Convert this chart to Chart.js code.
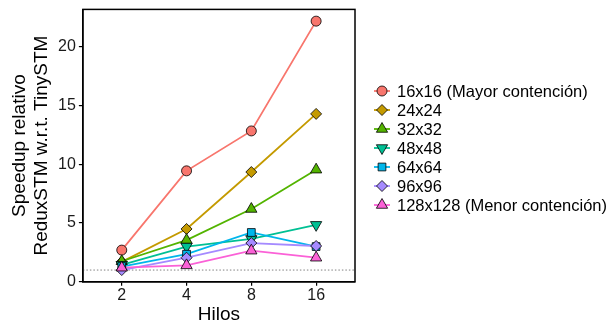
<!DOCTYPE html>
<html>
<head>
<meta charset="utf-8">
<script src="https://cdn.jsdelivr.net/npm/chart.js@4.4.1/dist/chart.umd.min.js"></script>
<style>
  html, body { margin: 0; padding: 0; background: #fff; }
  #wrap { width: 611px; height: 324px; }
</style>
</head>
<body>
<div id="wrap"><canvas id="chart" width="611" height="324"></canvas></div>
<script>
// datos
const hilos = ['2', '4', '8', '16'];
const series = ['16x16 (Mayor contención)', '24x24', '32x32', '48x48', '64x64', '96x96', '128x128 (Menor contención)'];
const s16 = [2.7, 9.45, 12.85, 22.2];
const s24 = [1.7, 4.5, 9.35, 14.3];
const s32 = [1.75, 3.55, 6.2, 9.55];
const s48 = [1.45, 3.0, 3.65, 4.85];
const s64 = [1.3, 2.35, 4.2, 3.0];
const s96 = [1.0, 2.05, 3.3, 3.05];
const s128 = [1.2, 1.4, 2.65, 2.05];
const valores = [s16, s24, s32, s48, s64, s96, s128];
const yTicks = [0, 5, 10, 15, 20];
const baseline = 1;

const colores = ['#F8766D', '#C49A00', '#53B400', '#00C094', '#00B6EB', '#A58AFF', '#FB61D7'];
const formas = ['circle', 'rectRot', 'triangle', 'triangle', 'rect', 'rectRot', 'triangle'];
const giros = [0, 0, 0, 180, 0, 0, 0];
const radios = [5, 5.5, 6.5, 6.5, 5.5, 5.5, 6.5];
const FONT = '"Liberation Sans", Arial, sans-serif';

const toPts = arr => arr.map((v, i) => ({ x: i + 1, y: v }));

// primero todas las líneas, luego todos los puntos (como ggplot)
const lineas = valores.map((arr, k) => ({
    label: series[k],
    data: toPts(arr),
    borderColor: colores[k],
    borderWidth: 1.8,
    pointRadius: 0,
    fill: false,
    order: 100 - k,
}));
const puntos = valores.map((arr, k) => ({
    label: series[k],
    data: toPts(arr),
    showLine: false,
    pointStyle: formas[k],
    pointRotation: giros[k],
    pointRadius: radios[k],
    pointHoverRadius: radios[k],
    pointBackgroundColor: colores[k],
    pointBorderColor: '#000',
    pointBorderWidth: 0.8,
    order: 50 - k,
}));
const referencia = {
    label: 'ref',
    data: [{ x: 0.4, y: baseline }, { x: 4.6, y: baseline }],
    borderColor: '#808080',
    borderWidth: 1,
    borderDash: [1.5, 2],
    pointRadius: 0,
    order: 200,
};

// marco del panel + leyenda dibujada a mano
const panelYLeyenda = {
    id: 'panelYLeyenda',
    afterDraw(chart) {
        const { ctx, chartArea: a } = chart;
        ctx.save();
        ctx.strokeStyle = '#000';
        ctx.lineWidth = 1.5;
        ctx.strokeRect(a.left, a.top, a.right - a.left, a.bottom - a.top);

        const x0 = 382, y0 = 91, paso = 19;
        ctx.font = '16.5px ' + FONT;
        ctx.textBaseline = 'middle';
        ctx.textAlign = 'left';
        series.forEach((name, k) => {
            const y = y0 + k * paso;
            ctx.strokeStyle = colores[k];
            ctx.lineWidth = 1.8;
            ctx.beginPath();
            ctx.moveTo(x0 - 8, y);
            ctx.lineTo(x0 + 8, y);
            ctx.stroke();
            ctx.fillStyle = colores[k];
            ctx.strokeStyle = '#000';
            ctx.lineWidth = 0.8;
            Chart.helpers.drawPoint(ctx, { pointStyle: formas[k], rotation: giros[k], radius: radios[k], borderWidth: 0.8 }, x0, y);
            ctx.fillStyle = '#000';
            ctx.fillText(name, x0 + 15, y + 1);
        });
        ctx.restore();
    }
};

new Chart(document.getElementById('chart'), {
    type: 'line',
    data: { datasets: [referencia, ...lineas, ...puntos] },
    options: {
        responsive: false,
        animation: false,
        layout: { padding: { top: 8, right: 256, bottom: 0, left: 9 } },
        plugins: {
            legend: { display: false },
            tooltip: { enabled: false },
        },
        scales: {
            x: {
                type: 'linear',
                min: 0.4,
                max: 4.6,
                afterBuildTicks: s => { s.ticks = hilos.map((h, i) => ({ value: i + 1 })); },
                ticks: {
                    callback: v => hilos[v - 1],
                    color: '#1a1a1a',
                    font: { family: FONT, size: 16 },
                    padding: 0,
                    maxRotation: 0,
                },
                grid: { drawOnChartArea: false, drawTicks: true, tickLength: 4, color: '#000', lineWidth: 1.2 },
                border: { display: true, color: '#000', width: 1.5 },
                title: {
                    display: true,
                    text: 'Hilos',
                    color: '#000',
                    font: { family: FONT, size: 19, lineHeight: 1 },
                    padding: { top: 0, bottom: 0 },
                },
            },
            y: {
                min: 0,
                max: 23.2,
                afterBuildTicks: s => { s.ticks = yTicks.map(v => ({ value: v })); },
                ticks: {
                    color: '#1a1a1a',
                    font: { family: FONT, size: 16, lineHeight: 0.8 },
                    padding: 3,
                },
                grid: { drawOnChartArea: false, drawTicks: true, tickLength: 4, color: '#000', lineWidth: 1.2 },
                border: { display: true, color: '#000', width: 1.5 },
                title: {
                    display: true,
                    text: ['Speedup relativo', 'ReduxSTM w.r.t. TinySTM'],
                    color: '#000',
                    font: { family: FONT, size: 19, lineHeight: 1.16 },
                    padding: { top: 0, bottom: 2 },
                },
            },
        },
    },
    plugins: [panelYLeyenda],
});
</script>
</body>
</html>
